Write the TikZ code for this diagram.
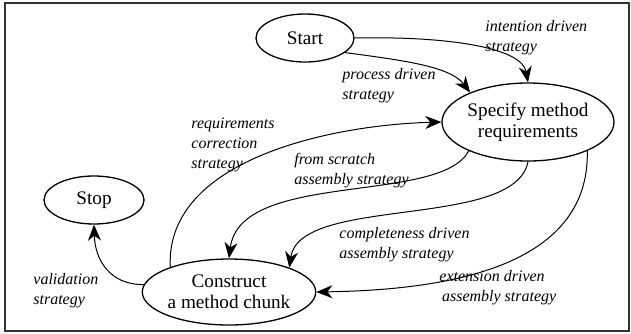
\documentclass[tikz,border=0pt]{standalone}
\usepackage{fontspec}
\setmainfont{Liberation Serif}
\usepackage{tikz}
\usetikzlibrary{shapes.geometric,arrows.meta,positioning}

\begin{document}
\begin{tikzpicture}[x=0.5pt,y=-0.5pt,>={Stealth[length=8pt,width=6.5pt,inset=2.5pt]},
  state/.style={ellipse,draw,line width=0.65pt,inner sep=0pt,align=center,font=\fontsize{9.6}{10.5}\selectfont},
  lbl/.style={anchor=west,align=left,inner sep=0pt,font=\fontsize{8}{10}\selectfont\itshape}]
\useasboundingbox (0,0) rectangle (631,333);
\draw[black!80,line width=0.9pt] (5,3) rectangle (629,331);

% intentions
\node[state,minimum width=49pt,minimum height=24pt] (start) at (305,38) {Start};
\node[state,minimum width=86pt,minimum height=39pt] (spec) at (528,122) {Specify method\\requirements};
\node[state,minimum width=50pt,minimum height=24pt] (stop) at (94,200) {Stop};
\node[state,minimum width=83pt,minimum height=33pt] (constr) at (229,292) {Construct\\a method chunk};

% strategies
\node[lbl] (intent) at (485,38) {intention driven\\strategy};
\node[lbl] (process) at (342,86) {process driven\\strategy};
\node[lbl] (correct) at (191,145) {requirements\\correction\\strategy};
\node[lbl] (scratch) at (294,171) {from scratch\\assembly strategy};
\node[lbl] (complete) at (339,245) {completeness driven\\assembly strategy};
\node[lbl] (extend) at (439,288) {extension driven\\\,assembly strategy};
\node[lbl] (valid) at (33,291) {validation\\strategy};

\begin{scope}[line width=0.5pt]
\draw[->] (start.east) .. controls (450,36) and (522,48) .. (spec.north);
\draw[->] (start.-20) .. controls (400,60) and (450,66) .. (spec.153);
\draw[->] (constr.157) .. controls (165,160) and (330,125) .. (spec.west);
\draw[->] (spec.206) .. controls (440,205) and (240,170) .. (constr.north);
\draw[->] (spec.south) .. controls (515,230) and (300,195) .. (constr.22);
\draw[->] (spec.-26) .. controls (590,270) and (440,290) .. (constr.east);
\draw[->] (constr.175) .. controls (110,285) and (95,260) .. (stop.south);
\end{scope}
\end{tikzpicture}
\end{document}
